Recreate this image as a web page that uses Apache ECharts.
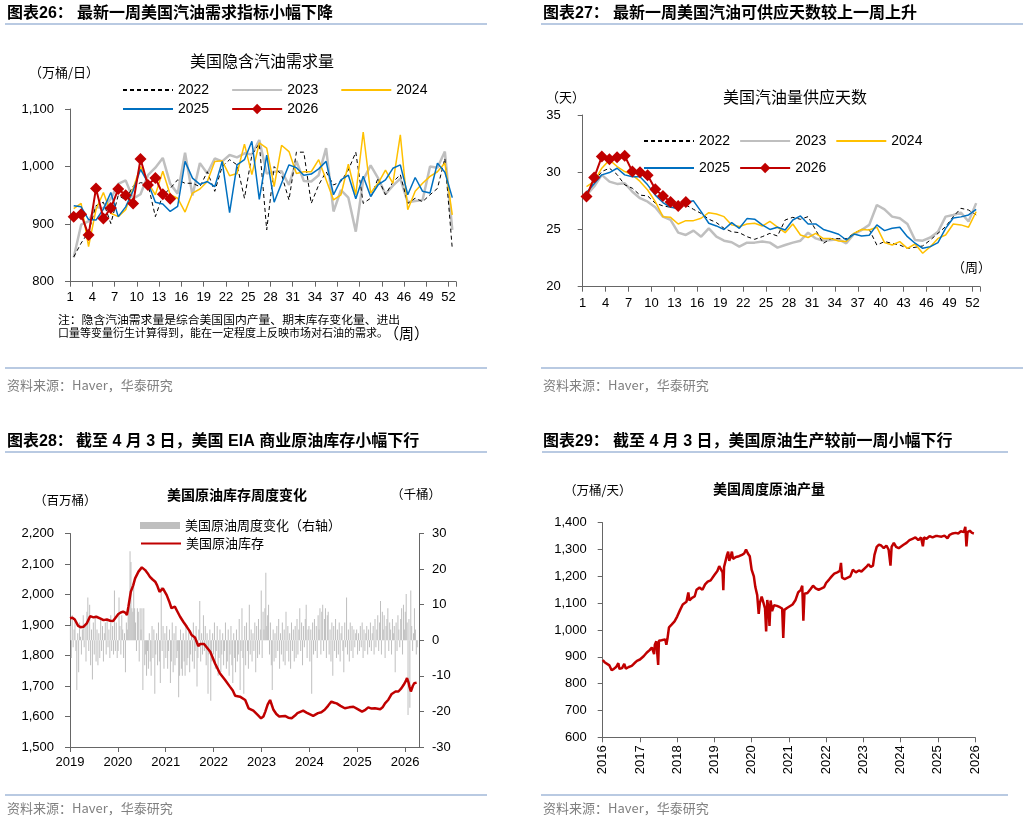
<!DOCTYPE html>
<html>
<head>
<meta charset="utf-8">
<title>美国汽油需求、供应天数、原油库存与产量</title>
<script src="https://cdn.jsdelivr.net/npm/echarts@6/dist/echarts.min.js"></script>
<style>
html, body { margin: 0; padding: 0; background: #fff; }
#main { width: 1029px; height: 821px; }
</style>
</head>
<body>
<div id="main"></div>
<script>
// ---------- 图表26：美国隐含汽油需求量（万桶/日），按周 ----------
var weeks = [];
for (var w = 1; w <= 52; w++) weeks.push(String(w));

var demand2022 = [843,867,886,932,938,901,950,942,966,972,970,913,950,962,977,971,971,965,991,957,1000,1012,1003,945,1020,1040,
                  890,1000,986,942,1025,1025,936,968,991,968,974,994,1025,936,945,980,951,973,986,936,945,939,951,962,1014,857];
var demand2023 = [842,899,905,930,927,944,970,976,944,952,985,998,1015,970,953,1024,950,1006,988,1014,1009,1020,1016,1023,1021,1046,
                  988,991,992,968,1010,975,974,985,1032,922,959,946,887,977,1002,980,952,967,979,938,940,942,1000,998,1026,890];
var demand2024 = [927,936,861,925,955,919,913,925,962,1000,973,951,992,951,945,921,954,961,974,1009,1010,984,988,1039,986,1041,
                  1032,965,1037,1026,988,991,991,1012,977,942,951,1004,951,1060,954,971,994,971,1055,925,957,971,983,991,1006,916];
var demand2025 = [932,930,908,907,926,955,913,930,958,995,972,938,935,922,931,1009,980,969,974,965,1009,920,1003,1012,1044,943,
                  1020,938,971,1003,998,985,987,996,1009,951,977,985,944,983,948,968,977,997,1003,951,981,957,954,1006,990,946];
var demand2026 = [913,917,881,962,910,928,961,950,936,1013,968,980,952,944];

// ---------- 图表27：美国汽油可供应天数（天），按周 ----------
var supply2022 = [28.2,29.2,30.06,30.35,29.8,28.9,28.6,28.0,27.93,27.3,27.06,26.94,26.85,27.14,26.76,26.4,25.9,25.6,25.1,24.8,
                  24.72,24.37,24.14,24.37,24.66,24.43,25.83,26.06,25.89,26.12,24.95,23.79,24.2,24.2,24.2,24.66,25.0,25.0,23.64,23.94,
                  23.79,23.64,23.35,23.44,23.56,24.08,24.66,25.25,26.12,26.85,26.7,26.27];
var supply2023 = [28.0,28.75,29.77,29.18,28.98,29.04,28.3,27.73,27.43,26.94,26.12,25.83,24.72,24.52,24.9,24.37,25.1,24.37,24.02,23.88,
                  23.5,23.85,23.85,23.94,23.85,23.41,23.64,23.85,24.02,24.72,24.22,24.02,24.08,24.14,23.79,24.6,24.95,25.4,27.14,26.76,
                  26.12,25.98,25.48,24.08,24.02,24.3,24.8,26.12,26.27,26.47,25.7,27.3];
var supply2024 = [28.75,29.2,30.35,31.08,30.5,30.06,29.77,29.2,28.45,27.43,26.12,26.06,25.48,25.77,25.77,25.98,26.47,26.35,26.12,25.4,
                  25.25,25.48,25.54,25.3,25.7,25.2,24.72,25.48,24.52,24.3,24.66,24.2,24.2,24.0,23.94,24.66,25.0,24.95,25.2,23.85,
                  23.64,23.94,23.35,23.73,22.92,23.5,24.22,24.52,25.48,25.4,25.2,26.56];
var supply2025 = [28.2,29.0,29.77,29.97,30.35,29.77,29.6,29.6,28.9,28.0,27.35,26.94,26.85,27.35,27.5,26.56,25.54,25.31,25.0,25.6,
                  25.1,25.95,25.9,25.4,25.0,25.2,24.96,25.83,26.18,25.48,25.48,25.0,24.8,24.58,24.08,24.6,24.43,24.5,25.4,24.9,
                  25.1,25.2,24.37,23.8,23.35,23.5,23.85,25.1,26.0,26.1,26.27,26.76];
var supply2026 = [27.87,29.53,31.37,31.14,31.31,31.43,30.06,30.0,29.74,28.51,27.93,27.41,27.06,27.41];

// ---------- 图表28：美国原油库存（百万桶）与周度变化（右轴） ----------
var invYear = [2019.00,2019.05,2019.10,2019.17,2019.22,2019.28,2019.35,2019.42,2019.49,2019.55,
               2019.59,2019.65,2019.70,2019.77,2019.84,2019.90,2019.94,2020.01,2020.06,2020.11,
               2020.16,2020.19,2020.22,2020.27,2020.32,2020.36,2020.43,2020.50,2020.53,2020.57,
               2020.62,2020.67,2020.72,2020.78,2020.82,2020.87,2020.91,2020.94,2021.02,2021.07,
               2021.12,2021.19,2021.24,2021.30,2021.37,2021.44,2021.50,2021.54,2021.61,2021.68,
               2021.72,2021.75,2021.80,2021.84,2021.93,2022.03,2022.13,2022.24,2022.34,2022.40,
               2022.45,2022.55,2022.66,2022.73,2022.83,2022.92,2022.99,2023.04,2023.08,2023.13,
               2023.18,2023.25,2023.31,2023.37,2023.49,2023.56,2023.63,2023.70,2023.75,2023.87,
               2023.94,2023.98,2024.08,2024.18,2024.25,2024.32,2024.39,2024.46,2024.52,2024.57,
               2024.65,2024.74,2024.83,2024.92,2025.00,2025.10,2025.17,2025.23,2025.30,2025.37,
               2025.48,2025.53,2025.58,2025.65,2025.72,2025.80,2025.86,2025.92,2025.97,2026.01,
               2026.04,2026.07,2026.09,2026.12,2026.16,2026.19,2026.24];
var invValue = [1922,1924,1918,1897,1893,1894,1905,1929,1925,1927,
                1925,1920,1916,1918,1914,1913,1918,1936,1941,1944,
                1940,1933,1960,2009,2030,2053,2075,2089,2085,2080,
                2070,2058,2050,2042,2030,2009,2015,2020,1998,1978,
                1955,1960,1945,1927,1910,1894,1880,1867,1859,1831,
                1838,1842,1838,1840,1812,1774,1742,1720,1698,1685,
                1668,1665,1654,1627,1619,1605,1594,1600,1616,1640,
                1654,1622,1608,1600,1602,1596,1594,1603,1611,1619,
                1613,1613,1602,1611,1614,1622,1635,1649,1645,1643,
                1635,1627,1630,1632,1625,1616,1622,1630,1626,1627,
                1624,1630,1643,1655,1674,1682,1682,1692,1704,1715,
                1726,1712,1698,1682,1700,1709,1711];

// 每周变化，自 2019 年 1 月第一周起
var change2019 = [4,-5,7,-2,3,6,-3,-14,2,-9,5,1,-4,3,7,-2,4,-6,8,12,-3,10,-7,3,-11,5,-4,7,-6,3,-7,2,-5,6,-3,4,-6,2,5,-4,6,-2,3,-5,7,-3,4,-4,14,-3,5,-5];
var change2020 = [-3,12,4,-4,7,3,-5,2,-9,5,3,7,9,25,22,9,8,16,9,5,-3,9,8,-6,9,3,9,-14,9,-7,-4,-10,-3,-8,2,-6,-10,4,-5,3,-15,-4,2,-7,5,-6,-12,15,-3,4,-8,2];
var change2021 = [-5,4,-8,-3,3,-12,-6,5,-9,2,-7,4,-5,-3,-16,-10,3,-8,-10,2,-6,-10,4,-7,-5,3,-9,-4,2,-6,5,-8,-3,4,-13,-5,3,11,-6,2,-4,7,-3,4,-7,2,-15,-4,3,-17,-6,2];
var change2022 = [-4,5,-8,-3,4,-10,-5,3,-9,-4,2,-7,-3,5,-8,-6,3,-10,-4,4,-7,-12,2,-5,-9,3,-6,-4,6,-14,-3,9,-5,-15,4,-7,5,-3,-8,10,-4,3,-6,2,-3,5,-9,4,-5,6,-4,3];
var change2023 = [14,-5,8,3,9,19,4,7,10,-4,5,-7,-14,3,-6,2,-5,4,-3,6,-8,2,-4,5,-6,3,-7,8,-3,4,-6,2,-8,5,-3,3,-6,4,-5,6,-4,3,9,-3,5,-7,4,-2,6,10,-5,3];
var change2024 = [4,-6,3,-15,5,-4,6,-3,4,-5,7,3,9,-4,8,10,-3,6,9,-5,7,8,-4,3,-6,5,-10,4,-3,6,-5,3,-4,5,-6,2,4,-3,-9,5,-2,12,-4,3,-6,5,-3,4,-5,3,-2,2];
var change2025 = [3,-4,2,-3,4,-2,5,-5,3,-3,2,4,-4,3,-2,5,-3,2,4,-4,6,-2,3,7,-3,5,11,-4,8,3,7,-5,4,6,9,-3,5,3,-4,6,2,4,-9,5,-3,7,3,-2,6,9,-4,10];
var change2026 = [3,8,13,5,-21,6,-19,14,4,-3,2,9,3,-4,-2];

// ---------- 图表29：美国周度原油产量（万桶/天） ----------
var prodYear = [2016.00,2016.05,2016.10,2016.18,2016.24,2016.30,2016.36,2016.40,2016.42,2016.45,2016.52,2016.56,2016.58,2016.62,2016.70,2016.78,2016.85,2016.92,
                2017.00,2017.10,2017.18,2017.26,2017.32,2017.36,2017.38,2017.40,2017.44,2017.47,2017.49,2017.51,2017.58,2017.63,2017.68,2017.71,2017.74,2017.78,2017.85,2017.93,
                2018.00,2018.08,2018.15,2018.20,2018.25,2018.30,2018.33,2018.40,2018.47,2018.52,2018.60,2018.68,2018.75,2018.82,2018.90,
                2019.00,2019.08,2019.13,2019.18,2019.22,2019.24,2019.26,2019.30,2019.34,2019.37,2019.40,2019.44,2019.47,2019.50,2019.58,2019.66,2019.74,2019.80,2019.85,2019.90,2019.95,
                2020.00,2020.06,2020.10,2020.15,2020.19,2020.22,2020.27,2020.32,2020.36,2020.39,2020.42,2020.46,2020.48,2020.51,2020.55,2020.60,2020.68,2020.76,2020.82,2020.85,2020.88,2020.95,
                2021.00,2021.10,2021.18,2021.25,2021.32,2021.36,2021.39,2021.42,2021.50,2021.58,2021.65,2021.72,2021.80,2021.88,2021.95,
                2022.00,2022.08,2022.15,2022.22,2022.30,2022.37,2022.40,2022.43,2022.50,2022.58,2022.65,2022.72,2022.80,2022.88,2022.95,
                2023.00,2023.08,2023.14,2023.20,2023.26,2023.30,2023.36,2023.42,2023.48,2023.55,2023.62,2023.68,2023.73,2023.76,2023.82,2023.88,2023.95,
                2024.00,2024.08,2024.16,2024.24,2024.32,2024.40,2024.48,2024.55,2024.60,2024.63,2024.70,2024.78,2024.86,2024.94,
                2025.00,2025.10,2025.18,2025.26,2025.32,2025.40,2025.48,2025.55,2025.62,2025.70,2025.74,2025.77,2025.80,2025.86,2025.92,2025.97];
var prodValue = [888,880,873,868,850,855,862,860,876,855,858,862,874,856,862,866,876,885,
                 890,902,915,925,935,942,910,945,958,962,870,960,962,958,965,945,968,1010,1020,1032,
                 1050,1075,1095,1100,1105,1140,1110,1120,1125,1150,1158,1150,1170,1180,1185,
                 1205,1220,1238,1225,1215,1148,1235,1242,1280,1292,1258,1275,1292,1265,1272,1275,1280,1285,1300,1285,1275,
                 1225,1200,1160,1130,1060,1100,1125,1100,1080,995,1112,1075,1015,1110,1070,1092,1090,1085,1080,970,1075,1082,
                 1085,1095,1112,1140,1150,1165,1035,1135,1138,1152,1165,1155,1150,1155,1160,
                 1175,1188,1200,1210,1215,1220,1250,1195,1190,1195,1200,1225,1215,1222,1218,
                 1222,1235,1245,1235,1240,1280,1310,1318,1315,1305,1315,1300,1240,1310,1325,1310,1305,
                 1310,1318,1325,1335,1340,1345,1335,1345,1312,1345,1340,1350,1345,1350,
                 1350,1348,1352,1342,1355,1360,1362,1360,1368,1365,1385,1312,1365,1370,1362,1360];

var NUM_FONT = '"Liberation Sans", "Noto Sans CJK SC", sans-serif';
var CJK_FONT = '"Noto Sans CJK SC", "Liberation Sans", sans-serif';
var AXIS_COLOR = '#666666';

function thousands(v) {
    return String(v).replace(/\B(?=(\d{3})+(?!\d))/g, ',');
}
function yearLabel(v) {
    return Math.abs(v - Math.round(v)) < 1e-6 ? String(Math.round(v)) : '';
}

function axisLine() { return { show: true, onZero: false, lineStyle: { color: AXIS_COLOR, width: 1 } }; }
function axisTick(extra) { return Object.assign({ show: true, length: 5, lineStyle: { color: AXIS_COLOR, width: 1 } }, extra || {}); }
function axisLabel(extra) { return Object.assign({ color: '#000', fontSize: 13, fontFamily: NUM_FONT }, extra || {}); }

function valueY(grid, min, max, step, margin, pos) {
    return {
        type: 'value', gridIndex: grid, min: min, max: max, interval: step, position: pos || 'left',
        axisLine: axisLine(), axisTick: axisTick(),
        axisLabel: axisLabel({ margin: margin, formatter: thousands }),
        splitLine: { show: false }
    };
}

function yearSeries(name, data, idx, color, width, dash) {
    return {
        name: name, type: 'line', xAxisIndex: idx, yAxisIndex: idx, data: data,
        symbol: 'none', lineStyle: { color: color, width: width, type: dash || 'solid' },
        itemStyle: { color: color }
    };
}
function series2026(data, idx) {
    return {
        name: '2026', type: 'line', xAxisIndex: idx, yAxisIndex: idx, data: data,
        symbol: 'diamond', symbolSize: 12, showSymbol: true, showAllSymbol: true, z: 5,
        lineStyle: { color: '#c00000', width: 2 }, itemStyle: { color: '#c00000' }
    };
}

function text(x, y, s, size, opt) {
    opt = opt || {};
    return {
        type: 'text', x: x, y: y, silent: true,
        style: {
            text: s, fill: opt.color || '#000', fontSize: size,
            fontWeight: opt.bold ? 'bold' : 'normal', fontFamily: opt.font || CJK_FONT,
            align: 'left', verticalAlign: 'middle'
        }
    };
}
function rule(x1, x2, y) {
    return { type: 'line', silent: true, shape: { x1: x1, y1: y, x2: x2, y2: y }, style: { stroke: '#a2b9d8', lineWidth: 1.5 } };
}
// 图例中只画线、不画圆点的条目
function lineOnly(name) { return { name: name, itemStyle: { opacity: 0 } }; }

var weeklyChange = [].concat(change2019, change2020, change2021, change2022, change2023, change2024, change2025, change2026);
var changePoints = weeklyChange.map(function (v, i) { return [2019 + (3 + 7 * i) / 365.25, v]; });
var invPoints = invYear.map(function (t, i) { return [t, invValue[i]]; });
var prodPoints = prodYear.map(function (t, i) { return [t, prodValue[i]]; });

var legendText = { color: '#000', fontSize: 14, fontFamily: NUM_FONT };
var source = '资料来源：Haver，华泰研究';

var option = {
    animation: false,
    backgroundColor: '#fff',
    textStyle: { fontFamily: NUM_FONT },
    grid: [
        { left: 70, top: 109, width: 386, height: 172.7 },
        { left: 582.7, top: 115, width: 397.3, height: 171.7 },
        { left: 70, top: 533.5, width: 349, height: 213.5 },
        { left: 602.7, top: 522.7, width: 372.3, height: 214.6 }
    ],
    xAxis: [
        { type: 'category', gridIndex: 0, data: weeks, boundaryGap: true,
          axisLine: axisLine(), axisTick: axisTick({ interval: 2 }),
          axisLabel: axisLabel({ interval: 2, margin: 9, padding: [0, 7.4, 0, 0] }) },
        { type: 'category', gridIndex: 1, data: weeks, boundaryGap: true,
          axisLine: axisLine(), axisTick: axisTick({ interval: 2 }),
          axisLabel: axisLabel({ interval: 2, margin: 10, padding: [0, 7.6, 0, 0] }) },
        { type: 'value', gridIndex: 2, min: 2019, max: 2026.29, interval: 1,
          axisLine: axisLine(), axisTick: axisTick(),
          axisLabel: axisLabel({ margin: 9, formatter: yearLabel, showMaxLabel: false }),
          splitLine: { show: false } },
        { type: 'value', gridIndex: 3, min: 2016, max: 2026, interval: 1,
          axisLine: axisLine(), axisTick: axisTick(),
          axisLabel: axisLabel({ margin: 8, rotate: 90, formatter: yearLabel }),
          splitLine: { show: false } }
    ],
    yAxis: [
        valueY(0, 800, 1100, 100, 16),
        valueY(1, 20, 35, 5, 22),
        valueY(2, 1500, 2200, 100, 16),
        valueY(2, -30, 30, 10, 13, 'right'),
        valueY(3, 600, 1400, 100, 16)
    ],
    legend: [
        { left: 117, top: 78, data: [lineOnly('2022'), lineOnly('2023'), lineOnly('2024')], itemWidth: 50, itemHeight: 10, itemGap: 22, selectedMode: false, textStyle: legendText },
        { left: 117, top: 97, data: [lineOnly('2025'), '2026'], itemWidth: 50, itemHeight: 13, itemGap: 22, selectedMode: false, textStyle: legendText },
        { left: 638, top: 129, data: [lineOnly('2022'), lineOnly('2023'), lineOnly('2024')], itemWidth: 50, itemHeight: 10, itemGap: 9, selectedMode: false, textStyle: legendText },
        { left: 638, top: 156, data: [lineOnly('2025'), '2026'], itemWidth: 50, itemHeight: 13, itemGap: 9, selectedMode: false, textStyle: legendText },
        { left: 135, top: 514, data: [{ name: '美国原油周度变化（右轴）', icon: 'rect' }], itemWidth: 40, itemHeight: 7, selectedMode: false,
          textStyle: { color: '#000', fontSize: 13, fontFamily: CJK_FONT } },
        { left: 135, top: 532, data: [lineOnly('美国原油库存')], itemWidth: 40, itemHeight: 7, selectedMode: false,
          textStyle: { color: '#000', fontSize: 13, fontFamily: CJK_FONT } }
    ],
    series: [
        yearSeries('2023', demand2023, 0, '#bfbfbf', 2.5),
        yearSeries('2022', demand2022, 0, '#000000', 1, [4, 3]),
        yearSeries('2024', demand2024, 0, '#ffc000', 1.5),
        yearSeries('2025', demand2025, 0, '#0070c0', 1.5),
        series2026(demand2026, 0),

        yearSeries('2023', supply2023, 1, '#bfbfbf', 2.5),
        yearSeries('2022', supply2022, 1, '#000000', 1, [4, 3]),
        yearSeries('2024', supply2024, 1, '#ffc000', 1.5),
        yearSeries('2025', supply2025, 1, '#0070c0', 1.5),
        series2026(supply2026, 1),

        { name: '美国原油周度变化（右轴）', type: 'bar', xAxisIndex: 2, yAxisIndex: 3, data: changePoints,
          barWidth: 1, itemStyle: { color: '#bfbfbf' } },
        { name: '美国原油库存', type: 'line', xAxisIndex: 2, yAxisIndex: 2, data: invPoints, symbol: 'none', z: 4,
          lineStyle: { color: '#c00000', width: 2.5 }, itemStyle: { color: '#c00000' } },

        { name: '美国周度原油产量', type: 'line', xAxisIndex: 3, yAxisIndex: 4, data: prodPoints, symbol: 'none',
          lineStyle: { color: '#c00000', width: 2.5 }, itemStyle: { color: '#c00000' } }
    ],
    graphic: { elements: [
        rule(5, 487, 24), rule(541, 1023, 24), rule(5, 487, 368), rule(541, 1023, 368),
        rule(5, 487, 452), rule(542, 1008, 452), rule(5, 487, 795), rule(541, 1008, 795),

        text(7, 14, '图表26：', 16, { bold: true, font: NUM_FONT }),
        text(77, 14, '最新一周美国汽油需求指标小幅下降', 16, { bold: true, font: NUM_FONT }),
        text(543, 14, '图表27：', 16, { bold: true, font: NUM_FONT }),
        text(613, 14, '最新一周美国汽油可供应天数较上一周上升', 16, { bold: true, font: NUM_FONT }),
        text(7, 441.5, '图表28：', 16, { bold: true, font: NUM_FONT }),
        text(76, 441.5, '截至 4 月 3 日，美国 EIA 商业原油库存小幅下行', 16, { bold: true, font: NUM_FONT }),
        text(543, 441.5, '图表29：', 16, { bold: true, font: NUM_FONT }),
        text(613, 441.5, '截至 4 月 3 日，美国原油生产较前一周小幅下行', 16, { bold: true, font: NUM_FONT }),

        text(190, 61, '美国隐含汽油需求量', 16),
        text(29, 72, '（万桶/日）', 13),
        text(58, 320, '注：隐含汽油需求量是综合美国国内产量、期末库存变化量、进出', 11.8),
        text(58, 333, '口量等变量衍生计算得到，能在一定程度上反映市场对石油的需求。', 11),
        text(384, 333, '（周）', 15),

        text(723, 97, '美国汽油量供应天数', 16),
        text(546, 97, '（天）', 13),
        text(952, 267, '（周）', 13),

        text(167, 495, '美国原油库存周度变化', 14, { bold: true }),
        text(34, 500, '（百万桶）', 12.5),
        text(391, 494, '（千桶）', 12.5),

        text(713, 489, '美国周度原油产量', 14, { bold: true }),
        text(564, 490, '（万桶/天）', 12.5),

        text(7, 385, source, 13, { color: '#808080' }),
        text(543, 385, source, 13, { color: '#808080' }),
        text(7, 808, source, 13, { color: '#808080' }),
        text(543, 808, source, 13, { color: '#808080' })
    ] }
};

var chart = echarts.init(document.getElementById('main'));
chart.setOption(option);
</script>
</body>
</html>
